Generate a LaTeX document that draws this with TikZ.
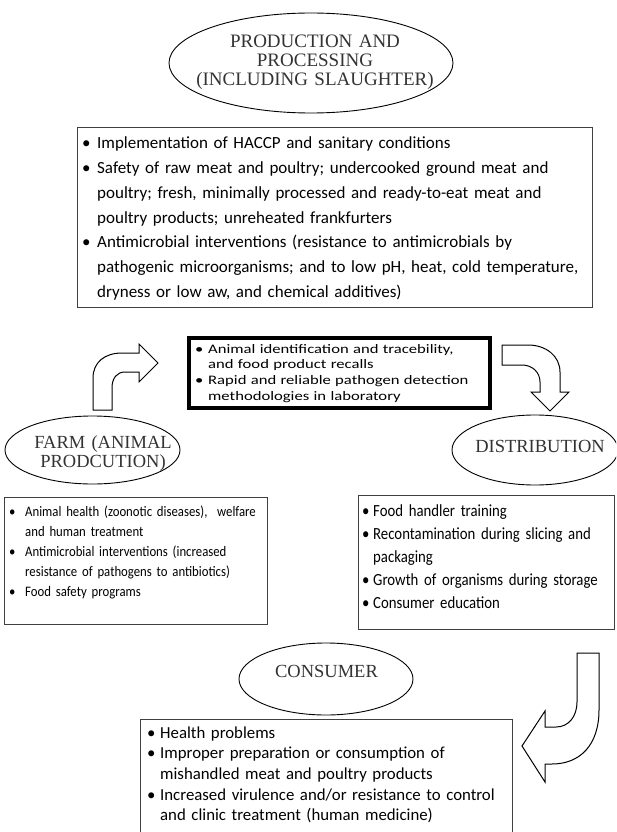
\documentclass[tikz,border=0pt]{standalone}
\usepackage{fontspec}
\setmainfont{Liberation Serif}
\newfontfamily\calfont{Carlito}
\newfontfamily\calwide[FakeStretch=1.28]{Carlito}
\newfontfamily\calfarm[FakeStretch=0.88]{Carlito}
\newfontfamily\caldist[FakeStretch=0.87]{Carlito}
\usetikzlibrary{shapes.geometric}
\newcommand\bitem[2]{\hangindent=#1\relax\hangafter=1\relax\makebox[#1][l]{\textbullet}#2\par}
\begin{document}
\begin{tikzpicture}[x=1pt,y=-1pt,
  ell/.style={draw=black, line width=0.9pt, ellipse, inner sep=0pt},
  etext/.style={text=black!80, inner sep=0pt, font=\fontsize{19}{19}\selectfont},
  box/.style={draw=black!75, line width=1.3pt, rectangle, inner sep=0pt, anchor=north west},
  txt/.style={inner sep=0pt, anchor=base west, align=left, text=black},
  blk/.style={draw=black, line width=1pt, fill=white, line join=miter}]
\useasboundingbox (0,0) rectangle (616,832);
\clip (0,0) rectangle (616,832);

% Production and processing
\node[ell, minimum width=284, minimum height=100] (prodE) at (311,63) {};
\node[etext, text width=280, align=center, anchor=base] (prodT) at (315,47.5)
  {PRODUCTION AND\\PROCESSING\\(INCLUDING SLAUGHTER)};
\node[box, minimum width=515, minimum height=180] (prodB) at (77,127) {};
\node[txt, text width=540, font=\calfont\fontsize{17}{24.7}\selectfont] (prodL) at (82,149)
  {\bitem{15pt}{Implementation of HACCP and sanitary conditions}%
   \bitem{15pt}{Safety of raw meat and poultry; undercooked ground meat and\newline poultry; fresh, minimally processed and ready-to-eat meat and\newline poultry products; unreheated frankfurters}%
   \bitem{15pt}{Antimicrobial interventions (resistance to antimicrobials by\newline pathogenic microorganisms; and to low pH, heat, cold temperature,\newline dryness or low aw, and chemical additives)}};

% Traceability box
\node[draw=black, line width=4pt, minimum width=301, minimum height=70, anchor=north west, inner sep=0pt] (traceB) at (187,336) {};
\node[txt, text width=320, font=\calwide\fontsize{13}{15.8}\selectfont] (traceL) at (195,353)
  {\bitem{13pt}{Animal identification and tracebility,\newline and food product recalls}%
   \bitem{13pt}{Rapid and reliable pathogen detection\newline methodologies in laboratory}};

% Farm
\node[ell, minimum width=175, minimum height=68] (farmE) at (92.5,450) {};
\node[etext, text width=170, align=center, anchor=base, font=\fontsize{18.5}{19}\selectfont] (farmT) at (103,448)
  {FARM (ANIMAL\\PRODCUTION)};
\node[box, minimum width=263, minimum height=127] (farmB) at (4,497) {};
\node[txt, text width=300, font=\calfarm\fontsize{14.5}{20}\selectfont] (farmL) at (9,516)
  {\bitem{16pt}{Animal health (zoonotic diseases),\ \ welfare\newline and human treatment}%
   \bitem{16pt}{Antimicrobial interventions (increased\newline resistance of pathogens to antibiotics)}%
   \bitem{16pt}{Food safety programs}};

% Distribution
\node[ell, minimum width=166, minimum height=70] (distE) at (535,450) {};
\node[etext, anchor=base, font=\fontsize{18.5}{19}\selectfont] (distT) at (540,452) {DISTRIBUTION};
\node[box, minimum width=256, minimum height=134] (distB) at (358,495) {};
\node[txt, text width=280, font=\caldist\fontsize{17}{23}\selectfont] (distL) at (362,516)
  {\bitem{11pt}{Food handler training}%
   \bitem{11pt}{Recontamination during slicing and\newline packaging}%
   \bitem{11pt}{Growth of organisms during storage}%
   \bitem{11pt}{Consumer education}};

% Consumer
\node[ell, minimum width=174, minimum height=72] (consE) at (326,679) {};
\node[etext, anchor=base, font=\fontsize{18.5}{19}\selectfont] (consT) at (326.5,677) {CONSUMER};
\node[box, minimum width=372, minimum height=140] (consB) at (140,719) {};
\node[txt, text width=400, font=\calfont\fontsize{16.8}{20.7}\selectfont] (consL) at (147,738)
  {\bitem{13pt}{Health problems}%
   \bitem{13pt}{Improper preparation or consumption of\newline mishandled meat and poultry products}%
   \bitem{13pt}{Increased virulence and/or resistance to control\newline and clinic treatment (human medicine)}};

% Block arrows
\draw[blk] (93,410) -- (93,378) .. controls (93,362) and (105,353) .. (122,353) -- (139,353) -- (139,344)
  -- (158,363) -- (139,382) -- (139,372) -- (125,372) .. controls (117,372) and (112,378) .. (112,388) -- (112,410) -- cycle;
\draw[blk] (502,345) -- (528,345) .. controls (546,345) and (560,356) .. (560,372) -- (560,392) -- (569,392)
  -- (550,411) -- (531,392) -- (540,392) -- (540,382) .. controls (540,372) and (532,365) .. (522,365) -- (502,365) -- cycle;
\draw[blk] (577,653) -- (599,653) -- (599,710) .. controls (599,745) and (580,764) .. (552,764) -- (545,764) -- (545,782)
  -- (522,746) -- (545,711) -- (545,727) -- (556,727) .. controls (569,727) and (577,716) .. (577,702) -- cycle;
\end{tikzpicture}
\end{document}
